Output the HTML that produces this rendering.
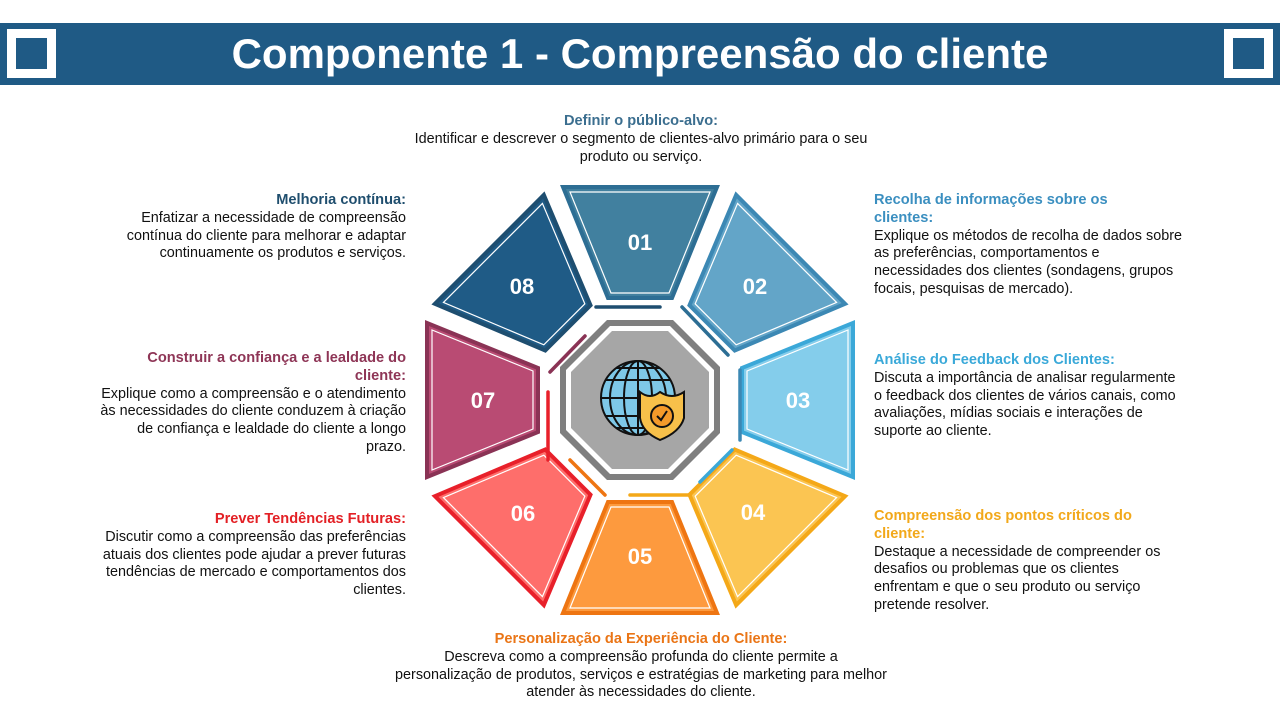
<!DOCTYPE html>
<html><head><meta charset="utf-8"><style>
body{margin:0;width:1280px;height:720px;background:#fff;position:relative;overflow:hidden;font-family:"Liberation Sans",sans-serif;}
.bar{position:absolute;left:0;top:23px;width:1280px;height:62px;background:#1f5a85;}
.sq{position:absolute;top:29px;width:31px;height:31px;border:9px solid #fff;background:#1f5a85;}
.title{position:absolute;top:23px;left:0;width:1280px;height:62px;line-height:62px;text-align:center;color:#fff;font-weight:bold;font-size:42px;}
.t{position:absolute;font-size:14.4px;line-height:17.8px;color:#111;white-space:nowrap;}
.t b{font-size:14.6px;}
.r{text-align:right}
.c{text-align:center}
</style></head><body>
<div class="bar"></div>
<div class="sq" style="left:7px"></div>
<div class="sq" style="left:1224px"></div>
<div class="title">Componente 1 - Compreensão do cliente</div>

<div class="t c" style="left:380px;width:522px;top:113px"><b style="color:#3b6e8f">Definir o público-alvo:</b><br>Identificar e descrever o segmento de clientes-alvo primário para o seu<br>produto ou serviço.</div>
<div class="t" style="left:874px;top:192px"><b style="color:#3b8fc0">Recolha de informações sobre os<br>clientes:</b><br>Explique os métodos de recolha de dados sobre<br>as preferências, comportamentos e<br>necessidades dos clientes (sondagens, grupos<br>focais, pesquisas de mercado).</div>
<div class="t" style="left:874px;top:352px"><b style="color:#3aa9d9">Análise do Feedback dos Clientes:</b><br>Discuta a importância de analisar regularmente<br>o feedback dos clientes de vários canais, como<br>avaliações, mídias sociais e interações de<br>suporte ao cliente.</div>
<div class="t" style="left:874px;top:508px"><b style="color:#f2a81a">Compreensão dos pontos críticos do<br>cliente:</b><br>Destaque a necessidade de compreender os<br>desafios ou problemas que os clientes<br>enfrentam e que o seu produto ou serviço<br>pretende resolver.</div>
<div class="t c" style="left:340px;width:602px;top:631px"><b style="color:#ea7516">Personalização da Experiência do Cliente:</b><br>Descreva como a compreensão profunda do cliente permite a<br>personalização de produtos, serviços e estratégias de marketing para melhor<br>atender às necessidades do cliente.</div>
<div class="t r" style="right:874px;top:192px"><b style="color:#1f4e6e">Melhoria contínua:</b><br>Enfatizar a necessidade de compreensão<br>contínua do cliente para melhorar e adaptar<br>continuamente os produtos e serviços.</div>
<div class="t r" style="right:874px;top:350px"><b style="color:#8e3556">Construir a confiança e a lealdade do<br>cliente:</b><br>Explique como a compreensão e o atendimento<br>às necessidades do cliente conduzem à criação<br>de confiança e lealdade do cliente a longo<br>prazo.</div>
<div class="t r" style="right:874px;top:511px"><b style="color:#e32025">Prever Tendências Futuras:</b><br>Discutir como a compreensão das preferências<br>atuais dos clientes pode ajudar a prever futuras<br>tendências de mercado e comportamentos dos<br>clientes.</div>

<svg style="position:absolute;left:0;top:0" width="1280" height="720">
<g transform="translate(640,400)">
<g transform="rotate(0)"><polygon points="-77,-213 77,-213 32,-102 -32,-102" fill="#41809f" stroke="#2d6e94" stroke-width="4"/><polygon points="-70,-208 70,-208 29,-107 -29,-107" fill="none" stroke="#fff" stroke-width="1.2"/></g>
<g transform="rotate(45)"><polygon points="-77,-213 77,-213 32,-102 -32,-102" fill="#63a5c8" stroke="#3c88b4" stroke-width="4"/><polygon points="-70,-208 70,-208 29,-107 -29,-107" fill="none" stroke="#fff" stroke-width="1.2"/></g>
<g transform="rotate(90)"><polygon points="-77,-213 77,-213 32,-102 -32,-102" fill="#84cdeb" stroke="#3ba8d8" stroke-width="4"/><polygon points="-70,-208 70,-208 29,-107 -29,-107" fill="none" stroke="#fff" stroke-width="1.2"/></g>
<g transform="rotate(135)"><polygon points="-77,-213 77,-213 32,-102 -32,-102" fill="#fbc552" stroke="#f4a818" stroke-width="4"/><polygon points="-70,-208 70,-208 29,-107 -29,-107" fill="none" stroke="#fff" stroke-width="1.2"/></g>
<g transform="rotate(180)"><polygon points="-77,-213 77,-213 32,-102 -32,-102" fill="#fd9a3e" stroke="#ee7512" stroke-width="4"/><polygon points="-70,-208 70,-208 29,-107 -29,-107" fill="none" stroke="#fff" stroke-width="1.2"/></g>
<g transform="rotate(225)"><polygon points="-77,-213 77,-213 32,-102 -32,-102" fill="#fe6e6b" stroke="#e8202a" stroke-width="4"/><polygon points="-70,-208 70,-208 29,-107 -29,-107" fill="none" stroke="#fff" stroke-width="1.2"/></g>
<g transform="rotate(270)"><polygon points="-77,-213 77,-213 32,-102 -32,-102" fill="#b94b73" stroke="#8a3355" stroke-width="4"/><polygon points="-70,-208 70,-208 29,-107 -29,-107" fill="none" stroke="#fff" stroke-width="1.2"/></g>
<g transform="rotate(315)"><polygon points="-77,-213 77,-213 32,-102 -32,-102" fill="#1f5b86" stroke="#1e4e70" stroke-width="4"/><polygon points="-70,-208 70,-208 29,-107 -29,-107" fill="none" stroke="#fff" stroke-width="1.2"/></g>
<g fill="none" stroke-width="3.5" stroke-linecap="round">
<path d="M-44,-93 L20,-93" stroke="#1e4e70"/>
<path d="M42,-93 L88,-45" stroke="#2d6e94"/>
<path d="M100,-30 L100,40" stroke="#3c88b4"/>
<path d="M92,50 L60,82" stroke="#3ba8d8"/>
<path d="M-10,95 L50,95" stroke="#f4a818"/>
<path d="M-70,60 L-35,95" stroke="#ee7512"/>
<path d="M-92,-8 L-92,60" stroke="#e8202a"/>
<path d="M-90,-28 L-55,-64" stroke="#8a3355"/>
</g>
<polygon points="-33,-80 33,-80 80,-33 80,33 33,80 -33,80 -80,33 -80,-33" fill="#7f7f7f"/>
<polygon points="-30,-74 30,-74 74,-30 74,30 30,74 -30,74 -74,30 -74,-30" fill="#fff"/>
<polygon points="-28,-69 28,-69 69,-28 69,28 28,69 -28,69 -69,28 -69,-28" fill="#a6a6a6"/>
<g transform="translate(-2,-2)" stroke="#111" stroke-width="2" fill="none">
<circle cx="0" cy="0" r="37" fill="#7ec8e8"/>
<ellipse cx="0" cy="0" rx="14" ry="37"/>
<ellipse cx="0" cy="0" rx="28" ry="37"/>
<line x1="0" y1="-37" x2="0" y2="37"/>
<line x1="-37" y1="0" x2="37" y2="0"/>
<path d="M-32,-18 H32 M-32,18 H32 M-22,-30 H22 M-22,30 H22"/>
</g>
<path d="M20,-8 Q32,0 44,-8 L44,18 Q40,32 20,40 Q2,32 0,18 L0,-8 Q10,0 20,-8Z" fill="#f7c04a" stroke="#111" stroke-width="2"/>
<circle cx="22" cy="16" r="11" fill="#f49a2a" stroke="#111" stroke-width="2"/>
<path d="M17,16 L21,20 L27,11" fill="none" stroke="#111" stroke-width="2"/>
<g fill="#fff" font-weight="bold" font-size="22" text-anchor="middle" font-family="Liberation Sans,sans-serif">
<text x="0" y="-150">01</text>
<text x="115" y="-106">02</text>
<text x="158" y="8">03</text>
<text x="113" y="120">04</text>
<text x="0" y="164">05</text>
<text x="-117" y="121">06</text>
<text x="-157" y="8">07</text>
<text x="-118" y="-106">08</text>
</g>
</g>
</svg>
</body></html>
